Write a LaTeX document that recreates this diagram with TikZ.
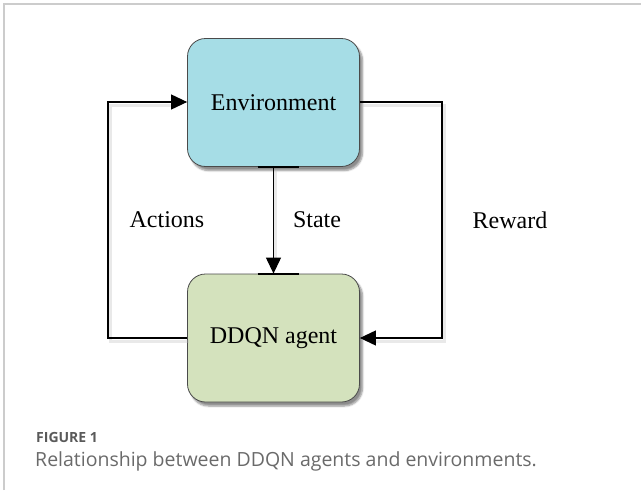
\documentclass[tikz,border=0pt]{standalone}
\usepackage{fontspec}
\setmainfont{Liberation Serif}
\newfontfamily\capfont{Open Sans}
\usetikzlibrary{arrows.meta,shadows.blur}
\definecolor{envfill}{HTML}{A6DDE6}
\definecolor{agentfill}{HTML}{D4E2BD}
\definecolor{boxline}{HTML}{4A4A4A}
\definecolor{framegray}{HTML}{CCCCCC}
\definecolor{capgray}{HTML}{5A5A5A}
\definecolor{captext}{HTML}{6A6A6A}
\tikzset{
  blockbox/.style={draw=boxline, line width=0.8pt, rounded corners=18pt,
    minimum width=172pt, minimum height=128pt, inner sep=0pt,
    font=\fontsize{24}{28}\selectfont,
    blur shadow={shadow xshift=3pt, shadow yshift=-4pt, shadow blur steps=6,
      shadow opacity=45}},
  flow/.style={draw=black, line width=1.1pt,
    -{Triangle[length=16pt, width=15pt]}},
  lineshade/.style={draw=black!25, line width=3pt, opacity=0.35},
  bar/.style={draw=black, line width=2.2pt},
  lbl/.style={font=\fontsize{24}{28}\selectfont, inner sep=0pt},
}
\begin{document}
\begin{tikzpicture}[x=1pt, y=-1pt]
  \useasboundingbox (0,0) rectangle (641,501);
  % card frame
  \draw[framegray, line width=1.4pt] (4,490) -- (4,4) -- (641,4);

  % blocks
  \node[blockbox, fill=envfill] (env) at (273.5,102.5) {Environment};
  \node[blockbox, fill=agentfill] (agent) at (273.5,338) {DDQN agent};

  % loop coordinates
  \coordinate (lt) at (108,102);
  \coordinate (lb) at (108,338);
  \coordinate (rt) at (442,102);
  \coordinate (rb) at (442,338);

  % soft shading under the connectors
  \draw[lineshade] ([shift={(2,3)}]agent.west |- lb) -- ([shift={(2,3)}]lb) -- ([shift={(2,3)}]lt) -- ([shift={(-14,3)}]env.west |- lt);
  \draw[lineshade] ([shift={(2,3)}]env.east |- rt) -- ([shift={(2,3)}]rt) -- ([shift={(2,3)}]rb) -- ([shift={(14,3)}]agent.east |- rb);
  \draw[lineshade] ([shift={(2,3)}]env.south) -- ([shift={(2,-14)}]agent.north);

  % connectors
  \draw[flow] (agent.west |- lb) -- (lb) -- (lt) -- (env.west |- lt);
  \draw[flow] (env.east |- rt) -- (rt) -- (rb) -- (agent.east |- rb);
  \draw[flow] (env.south) -- (agent.north);
  \draw[bar] ([xshift=-16pt]env.south) -- ([xshift=25pt]env.south);
  \draw[bar] ([xshift=-16pt]agent.north) -- ([xshift=25pt]agent.north);

  % labels
  \node[lbl] (actions) at (167,220) {Actions};
  \node[lbl] (state) at (317,220) {State};
  \node[lbl] (reward) at (510,220) {Reward};

  % caption
  \node[anchor=base west, inner sep=0pt, text=capgray,
    font=\capfont\fontsize{14}{16}\selectfont\bfseries] (fig) at (36,442) {FIGURE 1};
  \node[anchor=base west, inner sep=0pt, text=captext,
    font=\capfont\fontsize{19.5}{22}\selectfont] (cap) at (35,466)
    {Relationship between DDQN agents and environments.};
\end{tikzpicture}
\end{document}
